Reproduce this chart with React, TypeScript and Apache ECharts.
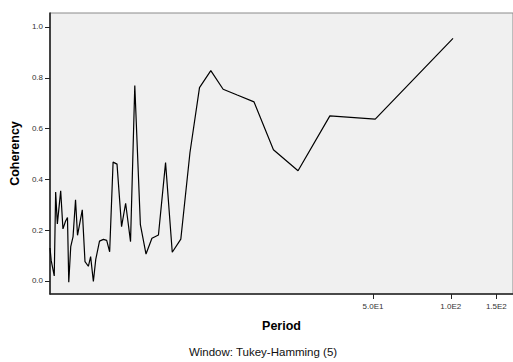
import React, { useEffect, useRef } from "react";
import * as echarts from "echarts";

const periods = [
  2.819, 2.849, 2.927, 2.964, 3.009, 3.1, 3.163, 3.236, 3.293, 3.331,
  3.39, 3.461, 3.538, 3.601, 3.757, 3.849, 3.966, 4.047, 4.147, 4.236,
  4.38, 4.536, 4.67, 4.794, 4.943, 5.119, 5.331, 5.527, 5.774, 5.997,
  6.303, 6.627, 6.986, 7.403, 7.887, 8.371, 9.035, 9.8, 10.67, 11.8,
  13.17, 14.93, 17.34, 20.61, 25.66, 34.07, 51.02, 102.0,
];
const coherency = [
  0.13, 0.08, 0.02, 0.35, 0.225, 0.355, 0.205, 0.235, 0.25, -0.005,
  0.135, 0.175, 0.32, 0.18, 0.28, 0.076, 0.058, 0.096, -0.002, 0.085,
  0.157, 0.164, 0.16, 0.115, 0.468, 0.46, 0.214, 0.306, 0.155, 0.77,
  0.222, 0.106, 0.168, 0.181, 0.466, 0.113, 0.165, 0.505, 0.761, 0.828,
  0.755, 0.732, 0.705, 0.517, 0.434, 0.65, 0.637, 0.955,
];
const xTicks = [50, 100, 150];
const yTicks = [0, 0.2, 0.4, 0.6, 0.8, 1.0];
const xTitle = "Period";
const yTitle = "Coherency";
const footnote = "Window: Tukey-Hamming (5)";

const FONT = "'Liberation Sans', Arial, Helvetica, sans-serif";

export default function App() {
  const ref = useRef<HTMLDivElement>(null);
  useEffect(() => {
    if (!ref.current) return;
    const chart = echarts.init(ref.current, null, { renderer: "svg" });
    chart.setOption({
      animation: false,
      backgroundColor: "#ffffff",
      textStyle: { fontFamily: FONT },
      grid: {
        left: 43.5,
        right: 0,
        top: 13,
        bottom: 68,
        show: true,
        backgroundColor: "#f0f0f0",
        borderColor: "#8a8a8a",
        borderWidth: 1,
      },
      xAxis: {
        type: "log",
        logBase: 10,
        min: 2.819,
        max: 174,
        name: xTitle,
        nameLocation: "middle",
        nameGap: 25,
        nameTextStyle: { fontFamily: FONT, fontSize: 12.5, fontWeight: "bold", color: "#000" },
        axisLine: { show: true, onZero: false, lineStyle: { color: "#222", width: 1.6 } },
        axisTick: { show: true, length: 5, customValues: xTicks, lineStyle: { color: "#222", width: 1 } },
        axisLabel: {
          show: true,
          customValues: xTicks,
          fontSize: 8,
          color: "#333",
          margin: 8,
          fontFamily: FONT,
          formatter: (v: number) => Number(v).toExponential(1).toUpperCase().replace("E+", "E"),
        },
        splitLine: { show: false },
        minorTick: { show: false },
        minorSplitLine: { show: false },
      },
      yAxis: {
        type: "value",
        min: -0.0512,
        max: 1.0551,
        name: yTitle,
        nameLocation: "middle",
        nameGap: 25.5,
        nameRotate: 90,
        nameTextStyle: { fontFamily: FONT, fontSize: 12.5, fontWeight: "bold", color: "#000" },
        axisLine: { show: true, onZero: false, lineStyle: { color: "#222", width: 1.6 } },
        axisTick: { show: true, length: 5, customValues: yTicks, lineStyle: { color: "#222", width: 1 } },
        axisLabel: {
          show: true,
          customValues: yTicks,
          fontSize: 8,
          color: "#333",
          margin: 7,
          fontFamily: FONT,
          formatter: (v: number) => Number(v).toFixed(1),
        },
        splitLine: { show: false },
      },
      graphic: [
        {
          type: "text",
          x: 263,
          y: 352,
          style: {
            text: footnote,
            fontFamily: FONT,
            fontSize: 11.5,
            fill: "#111",
            textAlign: "center",
            textVerticalAlign: "middle",
          },
        },
      ],
      series: [
        {
          type: "line",
          data: periods.map((p, i) => [p, coherency[i]]),
          showSymbol: false,
          symbol: "none",
          lineStyle: { color: "#000", width: 1.2 },
          clip: true,
        },
      ],
    });
    return () => chart.dispose();
  }, []);
  return (
    <div
      ref={ref}
      style={{ position: "absolute", left: 0, top: 0, width: 513, height: 362 }}
    />
  );
}
